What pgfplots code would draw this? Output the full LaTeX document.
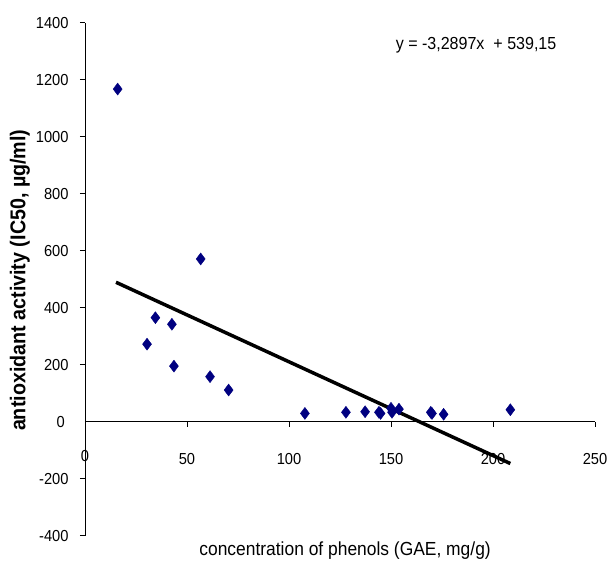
\documentclass[border=0pt]{standalone}
\usepackage{fontspec}
\setmainfont{Liberation Sans}[FakeStretch=0.92]
\usepackage{pgfplots}
\pgfplotsset{compat=1.18}
\definecolor{navy}{RGB}{0,0,128}

\begin{document}
\begin{tikzpicture}
\begin{axis}[
    at={(0,0)}, anchor=south west,
    scale only axis,
    width=510bp, height=513bp,
    xmin=0, xmax=250, ymin=-400, ymax=1400,
    axis lines=middle,
    axis line style={-, line width=0.8bp},
    xtick={0,50,...,250}, ytick={-400,-200,...,1400},
    tick align=outside,
    major tick length=5bp,
    tick style={black, line width=0.8bp},
    /pgf/number format/1000 sep={},
    /pgf/number format/assume math mode=true,
    tick label style={font=\fontsize{16}{18}\selectfont},
    xticklabel style={anchor=north, yshift=-23bp},
    yticklabel style={anchor=east, xshift=-8bp},
    clip=false,
]
    % data points
    \addplot[only marks, mark=diamond*, mark size=6bp, navy] coordinates {
        (16.0,1167) (30.4,272) (34.5,365) (42.6,342) (43.6,195)
        (56.7,571) (61.3,158) (70.4,111) (107.8,29) (127.9,33)
        (137.3,35) (144.1,33) (144.9,29) (150.0,47) (150.5,33)
        (153.9,44) (169.5,33) (170.1,29) (175.8,26) (208.5,42)
    };
    % linear trend
    \addplot[black, line width=3.5bp] coordinates {(15.2,489.2) (208.5,-146.8)};

    % zero labels (hidden at the axis crossing)
    \node[font=\fontsize{16}{18}\selectfont, anchor=north, inner sep=0pt] at (axis cs:0,0) [yshift=-28bp] {0};
    \node[font=\fontsize{16}{18}\selectfont, anchor=east, inner sep=0pt] at (axis cs:0,0) [xshift=-20bp] {0};

    \node[font=\fontsize{17.5}{20}\selectfont] at (axis cs:191.7,1322) {y = -3,2897x \ + 539,15};
    \node[font=\fontsize{19}{22}\selectfont] at (axis description cs:0.51,-0.03) {concentration of phenols (GAE, mg/g)};
    \node[font=\bfseries\fontsize{21.5}{24}\selectfont, rotate=90] at (axis description cs:-0.1275,0.498) {antioxidant activity (IC50, µg/ml)};
\end{axis}
\pgfresetboundingbox
\path[use as bounding box] (-85bp,-28.3bp) rectangle (526bp,535.7bp);
\end{tikzpicture}
\end{document}
